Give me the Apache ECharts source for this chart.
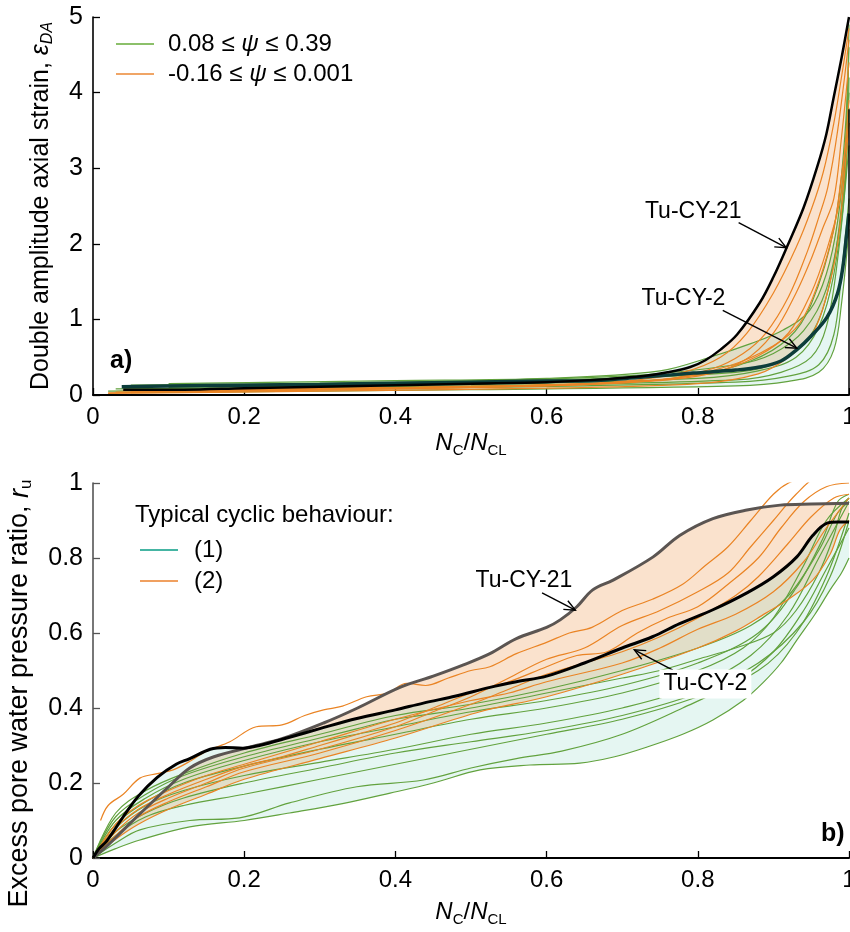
<!DOCTYPE html>
<html><head><meta charset="utf-8">
<script src="https://cdn.jsdelivr.net/npm/echarts@6/dist/echarts.min.js"></script>
<style>html,body{margin:0;padding:0;background:#fff}#c{width:850px;height:932px}</style>
</head><body><div id="c"></div>
<script>
// ---------- tick values ----------
const xTicks = [0, 0.2, 0.4, 0.6, 0.8, 1];
const yTicksTop = [0, 1, 2, 3, 4, 5];
const yTicksBot = [0, 0.2, 0.4, 0.6, 0.8, 1];

// ---------- panel a) : double amplitude axial strain ----------
const topTu21 = [[0.04,0.07],[0.12,0.07],[0.2,0.09],[0.3,0.11],[0.4,0.13],[0.5,0.15],[0.6,0.17],[0.68,0.21],[0.728,0.25],[0.76,0.3],[0.79,0.37],[0.81,0.46],[0.83,0.6],[0.852,0.8],[0.882,1.22],[0.9,1.56],[0.918,1.96],[0.94,2.48],[0.958,3.02],[0.97,3.45],[0.979,3.9],[0.99,4.45],[1.0,5.0]];
const topTu2 = [[0.038,0.11],[0.1,0.12],[0.2,0.13],[0.3,0.14],[0.4,0.155],[0.5,0.17],[0.6,0.185],[0.657,0.19],[0.72,0.23],[0.794,0.29],[0.85,0.33],[0.882,0.37],[0.91,0.45],[0.931,0.6],[0.95,0.78],[0.971,1.03],[0.985,1.35],[0.992,1.7],[0.997,2.14],[1.0,2.4]];
const topEnd = [[1,0],[1,3.78]];
const topO1 = [[0.02,0.03],[0.2,0.05],[0.4,0.08],[0.6,0.13],[0.7,0.18],[0.78,0.3],[0.83,0.5],[0.865,0.82],[0.9,1.35],[0.93,1.95],[0.95,2.45],[0.966,2.95],[0.98,3.6],[0.99,4.2],[1.0,4.85]];
const topO2 = [[0.03,0.04],[0.3,0.07],[0.6,0.12],[0.75,0.2],[0.82,0.35],[0.86,0.55],[0.89,0.82],[0.92,1.3],[0.945,1.9],[0.96,2.35],[0.972,2.75],[0.985,3.5],[1.0,4.7]];
const topO3 = [[0.05,0.05],[0.4,0.09],[0.65,0.14],[0.8,0.25],[0.86,0.45],[0.9,0.82],[0.93,1.35],[0.95,1.8],[0.965,2.2],[0.98,2.6],[0.99,3.4],[1.0,4.4]];
const topO4 = [[0.02,0.02],[0.3,0.05],[0.6,0.09],[0.8,0.15],[0.88,0.28],[0.92,0.5],[0.952,0.82],[0.97,1.3],[0.985,2.0],[0.993,2.8],[1.0,3.6]];
const topO5 = [[0.04,0.06],[0.4,0.1],[0.7,0.17],[0.82,0.3],[0.88,0.52],[0.92,0.82],[0.95,1.35],[0.97,1.9],[0.988,2.58],[0.995,3.3],[1.0,3.9]];
const topO6 = [[0.1,0.07],[0.5,0.11],[0.75,0.2],[0.84,0.38],[0.9,0.65],[0.935,0.95],[0.96,1.5],[0.98,2.2],[0.99,2.9],[1.0,3.6]];
const topG1 = [[0.1,0.15],[0.4,0.19],[0.6,0.22],[0.75,0.32],[0.816,0.5],[0.87,0.68],[0.913,0.86],[0.948,1.12],[0.97,1.6],[0.985,2.3],[0.995,3.3],[1.0,4.6]];
const topG2 = [[0.05,0.13],[0.4,0.17],[0.7,0.25],[0.85,0.4],[0.9,0.55],[0.94,0.85],[0.97,1.4],[0.99,2.4],[1.0,3.8]];
const topG3 = [[0.1,0.1],[0.5,0.14],[0.8,0.22],[0.88,0.32],[0.93,0.5],[0.96,0.9],[0.98,1.6],[0.995,2.8],[1.0,4.2]];
const topG4 = [[0.03,0.08],[0.5,0.12],[0.85,0.2],[0.91,0.3],[0.95,0.5],[0.97,0.9],[0.985,1.8],[1.0,3.3]];
const topG5 = [[0.02,0.05],[0.5,0.1],[0.85,0.17],[0.92,0.25],[0.96,0.4],[0.98,0.8],[0.99,1.6],[1.0,2.6]];
const topG6 = [[0.05,0.03],[0.5,0.07],[0.85,0.12],[0.92,0.18],[0.96,0.3],[0.98,0.6],[0.99,1.2],[1.0,2.2]];
const topG7 = [[0.12,0.12],[0.5,0.16],[0.8,0.28],[0.87,0.45],[0.92,0.75],[0.95,1.2],[0.98,2.2],[0.995,3.5],[1.0,4.9]];
const topG8 = [[0.25,0.14],[0.6,0.2],[0.85,0.3],[0.91,0.45],[0.95,0.8],[0.975,1.5],[0.99,2.5],[1.0,4.0]];

// ---------- panel b) : excess pore water pressure ratio ----------
const botTu21 = [[0,0],[0.02,0.035],[0.058,0.11],[0.1,0.19],[0.128,0.24],[0.16,0.27],[0.208,0.296],[0.25,0.318],[0.305,0.36],[0.35,0.4],[0.406,0.455],[0.45,0.485],[0.49,0.515],[0.525,0.545],[0.56,0.585],[0.6,0.615],[0.618,0.635],[0.64,0.67],[0.661,0.715],[0.688,0.741],[0.741,0.803],[0.776,0.86],[0.82,0.905],[0.865,0.928],[0.909,0.941],[0.95,0.944],[1.0,0.946]];
const botTu2 = [[0,0],[0.008,0.025],[0.018,0.045],[0.04,0.11],[0.06,0.165],[0.085,0.215],[0.11,0.25],[0.128,0.265],[0.155,0.29],[0.175,0.295],[0.198,0.293],[0.22,0.3],[0.26,0.322],[0.3,0.345],[0.349,0.372],[0.4,0.395],[0.437,0.413],[0.48,0.432],[0.525,0.455],[0.56,0.47],[0.6,0.485],[0.65,0.52],[0.7,0.56],[0.74,0.59],[0.776,0.625],[0.82,0.662],[0.865,0.707],[0.9,0.75],[0.931,0.803],[0.952,0.86],[0.971,0.893],[0.985,0.896],[1.0,0.896]];
const botOLow = [[0,0],[0.03,0.05],[0.06,0.09],[0.1,0.13],[0.15,0.17],[0.2,0.21],[0.3,0.265],[0.4,0.32],[0.512,0.39],[0.6,0.43],[0.7,0.49],[0.8,0.56],[0.85,0.605],[0.89,0.653],[0.92,0.69],[0.952,0.741],[0.975,0.81],[0.988,0.875],[1.0,0.9]];
const botO1 = [[0.01,0.1],[0.02,0.14],[0.04,0.17],[0.062,0.213],[0.085,0.225],[0.106,0.235],[0.13,0.26],[0.15,0.285],[0.181,0.31],[0.216,0.35],[0.25,0.355],[0.28,0.38],[0.305,0.395],[0.33,0.405],[0.362,0.43],[0.39,0.44],[0.415,0.466],[0.44,0.46],[0.47,0.48],[0.5,0.5],[0.525,0.51],[0.56,0.545],[0.6,0.575],[0.63,0.6],[0.66,0.615],[0.7,0.66],[0.74,0.69],[0.78,0.73],[0.81,0.78],[0.84,0.83],[0.87,0.9],[0.9,0.97],[0.92,1.0],[0.95,1.02],[1.0,1.03]];
const botO2 = [[0,0],[0.03,0.08],[0.06,0.13],[0.1,0.17],[0.15,0.21],[0.2,0.245],[0.25,0.27],[0.3,0.3],[0.35,0.33],[0.4,0.36],[0.45,0.4],[0.5,0.44],[0.55,0.47],[0.6,0.51],[0.64,0.54],[0.68,0.55],[0.72,0.6],[0.76,0.64],[0.8,0.67],[0.84,0.73],[0.88,0.8],[0.91,0.88],[0.94,0.95],[0.97,0.99],[1.0,1.0]];
const botO3 = [[0,0],[0.03,0.07],[0.06,0.12],[0.1,0.16],[0.15,0.2],[0.2,0.24],[0.3,0.29],[0.4,0.35],[0.45,0.39],[0.5,0.43],[0.55,0.48],[0.6,0.53],[0.65,0.56],[0.7,0.62],[0.75,0.66],[0.8,0.71],[0.84,0.76],[0.87,0.83],[0.9,0.9],[0.93,0.97],[0.96,1.02],[1.0,1.03]];
const botO4 = [[0,0],[0.03,0.06],[0.06,0.11],[0.1,0.15],[0.15,0.19],[0.2,0.23],[0.3,0.28],[0.4,0.34],[0.5,0.41],[0.55,0.45],[0.6,0.49],[0.65,0.52],[0.7,0.55],[0.75,0.59],[0.8,0.64],[0.85,0.7],[0.88,0.75],[0.92,0.84],[0.95,0.91],[0.98,0.96],[1.0,0.97]];
const botO5 = [[0,0],[0.03,0.09],[0.06,0.14],[0.1,0.18],[0.15,0.22],[0.2,0.25],[0.3,0.31],[0.4,0.37],[0.5,0.42],[0.55,0.44],[0.6,0.47],[0.7,0.52],[0.75,0.56],[0.8,0.61],[0.85,0.65],[0.9,0.71],[0.94,0.79],[0.97,0.88],[1.0,0.96]];
const botG1 = [[0,0],[0.03,0.025],[0.062,0.048],[0.128,0.083],[0.2,0.1],[0.26,0.12],[0.33,0.145],[0.393,0.173],[0.45,0.2],[0.512,0.235],[0.578,0.248],[0.644,0.253],[0.69,0.27],[0.733,0.296],[0.78,0.33],[0.82,0.368],[0.86,0.42],[0.886,0.467],[0.91,0.52],[0.931,0.581],[0.955,0.65],[0.975,0.715],[0.99,0.76],[1.0,0.8]];
const botG2 = [[0,0],[0.03,0.04],[0.062,0.075],[0.128,0.1],[0.194,0.107],[0.26,0.147],[0.349,0.19],[0.437,0.208],[0.5,0.24],[0.56,0.265],[0.62,0.285],[0.7,0.33],[0.78,0.4],[0.85,0.47],[0.9,0.55],[0.94,0.66],[0.97,0.77],[1.0,0.88]];
const botG3 = [[0,0],[0.03,0.06],[0.07,0.11],[0.12,0.14],[0.2,0.17],[0.3,0.21],[0.4,0.25],[0.45,0.27],[0.5,0.29],[0.55,0.31],[0.6,0.33],[0.7,0.37],[0.8,0.43],[0.88,0.5],[0.93,0.6],[0.97,0.75],[1.0,0.92]];
const botG4 = [[0,0],[0.03,0.08],[0.07,0.14],[0.12,0.18],[0.2,0.22],[0.3,0.255],[0.4,0.29],[0.5,0.33],[0.6,0.36],[0.7,0.4],[0.8,0.46],[0.87,0.54],[0.92,0.65],[0.96,0.8],[1.0,0.95]];
const botG5 = [[0,0],[0.03,0.09],[0.07,0.15],[0.12,0.2],[0.2,0.245],[0.3,0.29],[0.4,0.33],[0.5,0.37],[0.6,0.4],[0.7,0.44],[0.8,0.5],[0.86,0.56],[0.9,0.64],[0.94,0.78],[0.97,0.9],[1.0,0.96]];
const botG6 = [[0,0],[0.03,0.1],[0.07,0.16],[0.12,0.21],[0.2,0.26],[0.3,0.31],[0.4,0.35],[0.5,0.39],[0.6,0.42],[0.7,0.46],[0.8,0.52],[0.88,0.6],[0.93,0.72],[0.965,0.85],[0.985,0.95],[1.0,0.97]];
const botG7 = [[0,0],[0.03,0.11],[0.07,0.17],[0.12,0.22],[0.2,0.27],[0.3,0.32],[0.35,0.345],[0.4,0.37],[0.5,0.4],[0.6,0.44],[0.7,0.48],[0.75,0.5],[0.8,0.53],[0.85,0.56],[0.9,0.6],[0.93,0.66],[0.96,0.76],[0.98,0.86],[0.99,0.93],[1.0,0.96]];
const botG8 = [[0,0],[0.03,0.12],[0.07,0.18],[0.12,0.225],[0.2,0.28],[0.3,0.33],[0.4,0.38],[0.5,0.41],[0.6,0.45],[0.7,0.5],[0.8,0.56],[0.87,0.62],[0.92,0.7],[0.96,0.82],[0.985,0.92],[1.0,0.95]];
const botG9 = [[0,0],[0.03,0.07],[0.07,0.12],[0.12,0.16],[0.2,0.2],[0.3,0.24],[0.4,0.28],[0.5,0.31],[0.6,0.34],[0.7,0.38],[0.8,0.44],[0.88,0.52],[0.94,0.63],[0.975,0.75],[1.0,0.9]];

// ---------- names / annotations ----------
const topNames = ['0.08 ≤ ψ ≤ 0.39', '-0.16 ≤ ψ ≤ 0.001'];
const botNames = ['(1)', '(2)'];
const annTop = [
  {text:'Tu-CY-21', at:[0.794,2.43], from:[0.854,2.28], to:[0.917,1.95], box:false},
  {text:'Tu-CY-2', at:[0.781,1.28], from:[0.833,1.12], to:[0.931,0.62], box:false}
];
const annBot = [
  {text:'Tu-CY-21', at:[0.57,0.739], from:[0.594,0.707], to:[0.638,0.661], box:false},
  {text:'Tu-CY-2', at:[0.81,0.464], from:[0.767,0.501], to:[0.716,0.555], box:true}
];

// ---------- styling ----------
const FF = '"Liberation Sans", Arial, Helvetica, sans-serif';
const C_OR = '#ea8424', C_GR = '#62a23e';

function line(data, name, color, width, xi, z) {
  return {type:'line', name, data, xAxisIndex:xi, yAxisIndex:xi, symbol:'none', showSymbol:false, smooth:0.35,
    lineStyle:{color, width}, itemStyle:{color}, z: z||3, silent:true, clip:true};
}
function band(upper, lower, fill, xi) {
  const pts = upper.concat(lower.slice().reverse());
  return {type:'custom', xAxisIndex:xi, yAxisIndex:xi, silent:true, z:1, clip:true, data:[pts[0]],
    renderItem:(params, api) => ({type:'polygon', shape:{points: pts.map(p => api.coord(p)), smooth:0.25},
      style:{fill, stroke:null}})};
}
function annots(list, xi) {
  return {type:'custom', xAxisIndex:xi, yAxisIndex:xi, silent:true, z:30, clip:false,
    data: list.map(a => a.at),
    renderItem:(params, api) => {
      const a = list[params.dataIndex];
      const t = api.coord(a.at), f = api.coord(a.from), e = api.coord(a.to);
      const ang = Math.atan2(e[1]-f[1], e[0]-f[0]), L = 12, w = 0.42;
      const p1 = [e[0]-L*Math.cos(ang-w), e[1]-L*Math.sin(ang-w)];
      const p2 = [e[0]-L*Math.cos(ang+w), e[1]-L*Math.sin(ang+w)];
      return {type:'group', children:[
        {type:'line', shape:{x1:f[0], y1:f[1], x2:e[0], y2:e[1]}, style:{stroke:'#000', lineWidth:1.4}},
        {type:'polyline', shape:{points:[p1, e, p2]}, style:{stroke:'#000', lineWidth:1.4, fill:null}},
        {type:'text', x:t[0], y:t[1], z2:5, style:{text:a.text, fontSize:23, fontFamily:FF, fill:'#000',
          align:'center', verticalAlign:'middle', backgroundColor: a.box ? '#fff' : null, padding: a.box ? [3,4,3,4] : 0}}
      ]};
    }};
}

const series = [
  // panel a
  band(topTu21, topO4, 'rgba(240,160,90,0.3)', 0),
  band(topG1, topG6, 'rgba(100,200,180,0.17)', 0),
  ...[topG1, topG2, topG3, topG4, topG5, topG6, topG7, topG8].map(d => line(d, topNames[0], C_GR, 1.2, 0, 3)),
  ...[topO1, topO2, topO3, topO4, topO5, topO6].map(d => line(d, topNames[1], C_OR, 1.2, 0, 4)),
  line(topTu2, 'Tu-CY-2 (a)', '#0c3d3b', 3.5, 0, 6),
  line(topTu21, 'Tu-CY-21 (a)', '#000', 2.5, 0, 7),
  Object.assign(line(topEnd, 'end (a)', '#000', 1.5, 0, 7), {smooth:false}),
  annots(annTop, 0),
  // panel b
  band(botTu21, botOLow, 'rgba(240,160,90,0.3)', 1),
  band(botTu2, botG1, 'rgba(100,200,180,0.17)', 1),
  ...[botG1, botG2, botG3, botG4, botG5, botG6, botG7, botG8, botG9].map(d => line(d, botNames[0], C_GR, 1.2, 1, 3)),
  ...[botOLow, botO1, botO2, botO3, botO4, botO5].map(d => line(d, botNames[1], C_OR, 1.2, 1, 4)),
  line(botTu21, 'Tu-CY-21 (b)', '#5b5552', 3, 1, 6),
  line(botTu2, 'Tu-CY-2 (b)', '#000', 3, 1, 7),
  annots(annBot, 1)
];

const xNameRich = {
  i:{fontStyle:'italic', fontSize:24, fontFamily:FF, lineHeight:30, color:'#000'},
  n:{fontSize:24, fontFamily:FF, lineHeight:30, color:'#000'},
  s:{fontSize:15, fontFamily:FF, verticalAlign:'bottom', lineHeight:15, color:'#000'}
};
const xName = '{i|N}{s|C}{n|/}{i|N}{s|CL}';

function xAxis(gi, gap) {
  return {type:'value', gridIndex:gi, min:0, max:1, interval:0.2,
    axisLine:{lineStyle:{color:'#000', width:2}}, axisTick:{inside:true, length:7, lineStyle:{color:'#000', width:1.3}},
    splitLine:{show:false},
    axisLabel:{fontSize:24, fontFamily:FF, color:'#000', margin:10, showMaxLabel:true, hideOverlap:false},
    name: xName, nameLocation:'middle', nameGap:gap, nameTextStyle:{rich:xNameRich}};
}

const option = {
  animation:false,
  backgroundColor:'#fff',
  grid:[{left:93, right:1, top:17, height:378, containLabel:false, outerBoundsMode:'none'},
        {left:93, right:1, top:483, height:375, containLabel:false, outerBoundsMode:'none'}],
  xAxis:[xAxis(0, 33), xAxis(1, 39)],
  yAxis:[
    {type:'value', gridIndex:0, min:0, max:5, interval:1,
      axisLine:{show:true, lineStyle:{color:'#000', width:1.6}}, axisTick:{show:true, inside:true, length:7, lineStyle:{color:'#000', width:1.3}},
      splitLine:{show:false}, axisLabel:{fontSize:25, fontFamily:FF, color:'#000', margin:10},
      name:'Double amplitude axial strain, {e|ε}{s|DA}', nameLocation:'middle', nameGap:37,
      nameTextStyle:{fontSize:25, fontFamily:FF, color:'#000', lineHeight:30,
        rich:{e:{fontStyle:'italic', fontSize:25, fontFamily:FF, lineHeight:30, color:'#000'},
              s:{fontStyle:'italic', fontSize:16, fontFamily:FF, verticalAlign:'bottom', lineHeight:15, color:'#000'}}}},
    {type:'value', gridIndex:1, min:0, max:1, interval:0.2,
      axisLine:{show:true, lineStyle:{color:'#555', width:1.6}}, axisTick:{show:true, inside:true, length:7, lineStyle:{color:'#555', width:1.3}},
      splitLine:{show:false}, axisLabel:{fontSize:25, fontFamily:FF, color:'#000', margin:10},
      name:'Excess pore water pressure ratio, {e|r}{s|u}', nameLocation:'middle', nameGap:58,
      nameTextStyle:{fontSize:27, fontFamily:FF, color:'#000', lineHeight:30, padding:[0,46,0,0],
        rich:{e:{fontStyle:'italic', fontSize:27, fontFamily:FF, lineHeight:30, color:'#000'},
              s:{fontSize:17, fontFamily:FF, verticalAlign:'bottom', lineHeight:15, color:'#000'}}}}
  ],
  legend:[
    {left:111, top:26, orient:'vertical', itemWidth:38, itemHeight:2, itemGap:4, selectedMode:false, icon:'rect',
      data:[{name:topNames[0], itemStyle:{color:'#8cc06a'}}, {name:topNames[1], itemStyle:{color:'#f0a566'}}],
      formatter: n => n.split('ψ').join('{i|ψ}'),
      textStyle:{fontSize:24, fontFamily:FF, color:'#000', lineHeight:26, padding:[0,0,0,9],
        rich:{i:{fontStyle:'italic', fontSize:24, fontFamily:FF, color:'#000', lineHeight:26}}}},
    {left:135, top:532, orient:'vertical', itemWidth:38, itemHeight:2, itemGap:5, selectedMode:false, icon:'rect',
      data:[{name:botNames[0], itemStyle:{color:'#45b5a3'}}, {name:botNames[1], itemStyle:{color:'#f0a060'}}],
      textStyle:{fontSize:24, fontFamily:FF, color:'#000', lineHeight:26, padding:[0,0,0,11]}}
  ],
  graphic:[
    {type:'text', left:110, top:349, style:{text:'a)', fontSize:25, fontWeight:'bold', fontFamily:FF, fill:'#000'}},
    {type:'text', left:821, top:822, style:{text:'b)', fontSize:25, fontWeight:'bold', fontFamily:FF, fill:'#000'}},
    {type:'text', left:135, top:503, style:{text:'Typical cyclic behaviour:', fontSize:24, fontFamily:FF, fill:'#000'}}
  ],
  series
};
const chart = echarts.init(document.getElementById('c'), null, {renderer:'canvas'});
chart.setOption(option);
</script>
</body></html>
